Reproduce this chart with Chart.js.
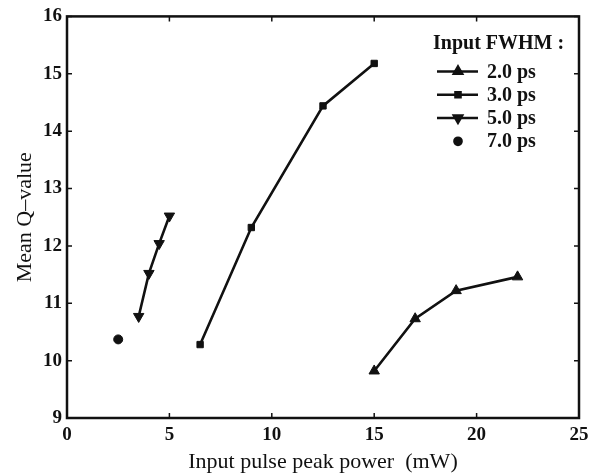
<!DOCTYPE html>
<html lang="en">
<head>
  <meta charset="UTF-8">
  <title>Mean Q-value vs input pulse peak power</title>
  <script src="https://cdn.jsdelivr.net/npm/chart.js"></script>
  <style>
    body {
      margin: 0;
      background: #fff;
    }
    #wrap {
      width: 607px;
      height: 476px;
    }
  </style>
</head>
<body>

<div id="wrap">
  <canvas id="qChart" width="607" height="476"></canvas>
</div>

<script>
  // values
  const seriesLabels = ['2.0 ps', '3.0 ps', '5.0 ps', '7.0 ps'];
  const power2ps = [15, 17, 19, 22];
  const q2ps = [9.82, 10.73, 11.22, 11.46];
  const power3ps = [6.5, 9, 12.5, 15];
  const q3ps = [10.28, 12.32, 14.44, 15.18];
  const power5ps = [3.5, 4, 4.5, 5];
  const q5ps = [10.77, 11.52, 12.04, 12.52];
  const power7ps = [2.5];
  const q7ps = [10.37];
  const xTicks = [0, 5, 10, 15, 20, 25];
  const yTicks = [9, 10, 11, 12, 13, 14, 15, 16];

  const serif = '"Liberation Serif", "DejaVu Serif", serif';

  function toPoints(xs, ys) {
    return xs.map((x, i) => ({ x: x, y: ys[i] }));
  }

  // box round the plot with little inward ticks on every side
  const boxTicks = {
    id: 'boxTicks',
    afterDatasetsDraw(chart) {
      const { ctx, chartArea: a, scales } = chart;
      const len = 5;
      ctx.save();
      ctx.strokeStyle = '#111';
      ctx.lineWidth = 2.5;
      ctx.strokeRect(a.left, a.top, a.right - a.left, a.bottom - a.top);
      ctx.lineWidth = 1.5;
      ctx.beginPath();
      xTicks.forEach(v => {
        const px = scales.x.getPixelForValue(v);
        ctx.moveTo(px, a.bottom); ctx.lineTo(px, a.bottom - len);
        ctx.moveTo(px, a.top); ctx.lineTo(px, a.top + len);
      });
      yTicks.forEach(v => {
        const py = scales.y.getPixelForValue(v);
        ctx.moveTo(a.left, py); ctx.lineTo(a.left + len, py);
        ctx.moveTo(a.right, py); ctx.lineTo(a.right - len, py);
      });
      ctx.stroke();
      ctx.restore();
    }
  };

  // legend inside the top right corner, line + marker like the original
  const insideLegend = {
    id: 'insideLegend',
    afterDraw(chart) {
      const { ctx, chartArea: a } = chart;
      const left = a.right - 146;
      ctx.save();
      ctx.fillStyle = '#111';
      ctx.textBaseline = 'middle';
      ctx.font = 'bold 20px ' + serif;
      ctx.fillText('Input FWHM :', left, a.top + 27);
      ctx.font = 'bold 20px ' + serif;
      chart.data.datasets.forEach((ds, i) => {
        const y = a.top + 55 + i * 23.3;
        if (ds.showLine !== false) {
          ctx.strokeStyle = '#111';
          ctx.lineWidth = 2.5;
          ctx.beginPath();
          ctx.moveTo(left + 4, y);
          ctx.lineTo(left + 45, y);
          ctx.stroke();
        }
        Chart.helpers.drawPoint(ctx, {
          pointStyle: ds.pointStyle,
          rotation: ds.rotation || 0,
          radius: ds.pointRadius * 0.8,
          borderWidth: 1
        }, left + 25, y);
        ctx.fillText(ds.label, left + 54, y + 1);
      });
      ctx.restore();
    }
  };

  const common = {
    borderColor: '#111',
    backgroundColor: '#111',
    pointBackgroundColor: '#111',
    pointBorderColor: '#111',
    borderWidth: 2.6,
    pointBorderWidth: 1
  };

  const ctx = document.getElementById('qChart').getContext('2d');
  const qChart = new Chart(ctx, {
    type: 'scatter',
    data: {
      datasets: [
        Object.assign({}, common, {
          label: seriesLabels[0],
          data: toPoints(power2ps, q2ps),
          showLine: true,
          pointStyle: 'triangle',
          pointRadius: 6
        }),
        Object.assign({}, common, {
          label: seriesLabels[1],
          data: toPoints(power3ps, q3ps),
          showLine: true,
          pointStyle: 'rect',
          pointRadius: 4.5
        }),
        Object.assign({}, common, {
          label: seriesLabels[2],
          data: toPoints(power5ps, q5ps),
          showLine: true,
          pointStyle: 'triangle',
          rotation: 180,
          pointRadius: 6
        }),
        Object.assign({}, common, {
          label: seriesLabels[3],
          data: toPoints(power7ps, q7ps),
          showLine: false,
          pointStyle: 'circle',
          pointRadius: 4.5
        })
      ]
    },
    options: {
      responsive: false,
      animation: false,
      layout: {
        padding: { top: 16, right: 28, left: 0, bottom: 0 }
      },
      plugins: {
        legend: { display: false },
        tooltip: { enabled: false }
      },
      scales: {
        x: {
          type: 'linear',
          min: 0,
          max: 25,
          afterBuildTicks: s => { s.ticks = xTicks.map(v => ({ value: v })); },
          afterFit: s => { s.height = 58; },
          grid: { display: false, drawTicks: false },
          border: { display: false },
          ticks: {
            color: '#111',
            padding: 6,
            font: { family: serif, size: 19, weight: 'bold' }
          },
          title: {
            display: true,
            text: 'Input pulse peak power  (mW)',
            color: '#111',
            padding: { top: 0, bottom: 1 },
            font: { family: serif, size: 22 }
          }
        },
        y: {
          type: 'linear',
          min: 9,
          max: 16,
          afterBuildTicks: s => { s.ticks = yTicks.map(v => ({ value: v })); },
          afterFit: s => { s.width = 67; },
          grid: { display: false, drawTicks: false },
          border: { display: false },
          ticks: {
            color: '#111',
            padding: 5,
            font: { family: serif, size: 19, weight: 'bold' }
          },
          title: {
            display: true,
            text: 'Mean Q–value',
            color: '#111',
            padding: { top: 12, bottom: 0 },
            font: { family: serif, size: 22 }
          }
        }
      }
    },
    plugins: [boxTicks, insideLegend]
  });
</script>

</body>
</html>
